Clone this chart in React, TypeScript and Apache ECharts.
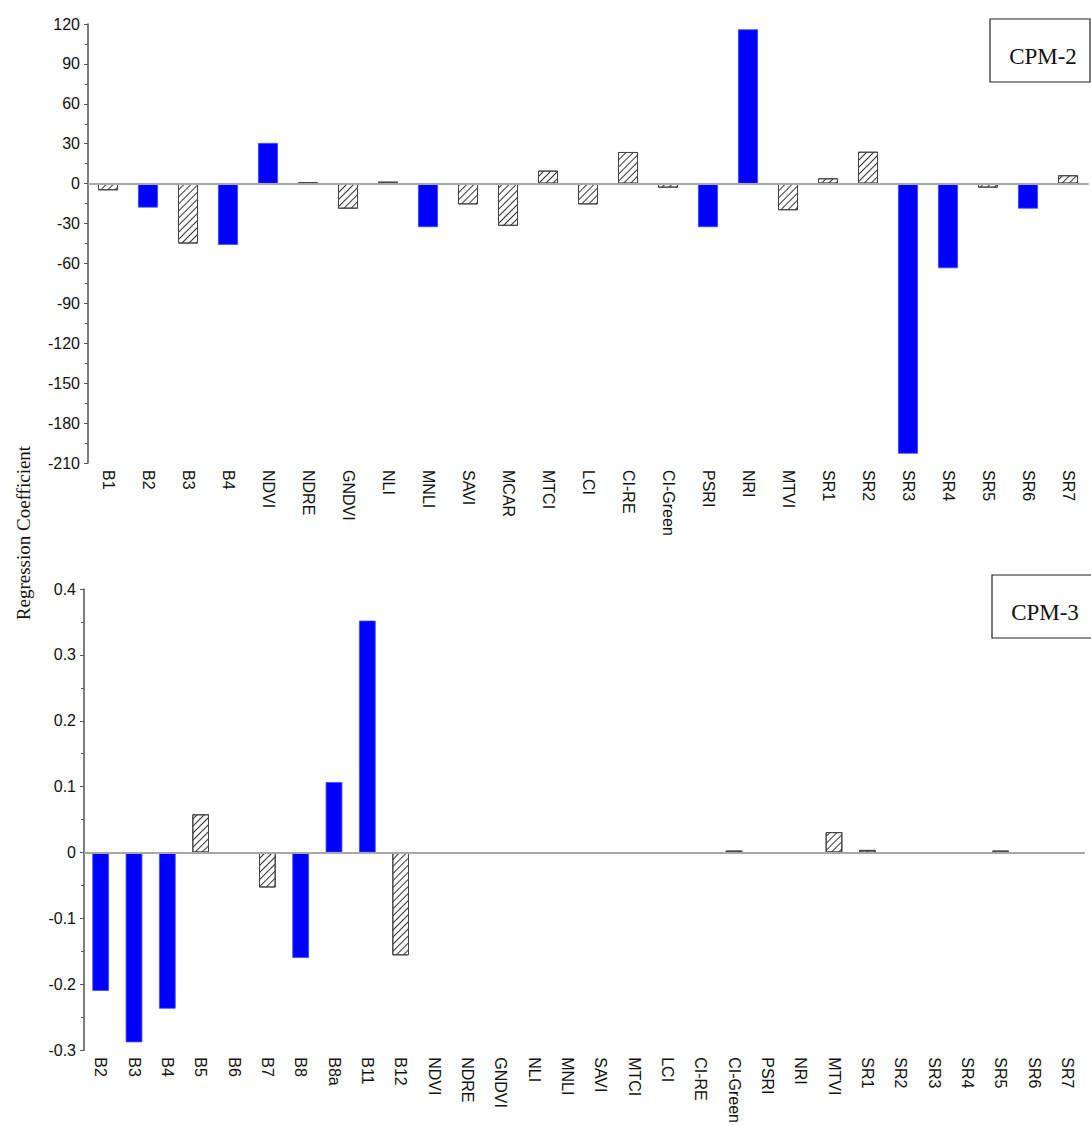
import React, { useEffect, useRef } from "react";
import * as echarts from "echarts";

// CPM-2 regression coefficients
const cpm2Categories = [
  "B1", "B2", "B3", "B4", "NDVI", "NDRE", "GNDVI", "NLI", "MNLI", "SAVI", "MCAR", "MTCI", "LCI",
  "CI-RE", "CI-Green", "PSRI", "NRI", "MTVI", "SR1", "SR2", "SR3", "SR4", "SR5", "SR6", "SR7",
];
const cpm2Values = [
  -5, -18, -45, -46, 30.6, 1, -18.8, 1.5, -32.7, -15.6, -31.7, 9.8, -15.6,
  23.8, -3, -32.7, 116, -20, 4, 24, -203, -63.6, -3, -18.8, 6.3,
];
const cpm2Selected = ["B2", "B4", "NDVI", "MNLI", "PSRI", "NRI", "SR3", "SR4", "SR6"];
const cpm2Ticks = { min: -210, max: 120, interval: 30 };

// CPM-3 regression coefficients
const cpm3Categories = [
  "B2", "B3", "B4", "B5", "B6", "B7", "B8", "B8a", "B11", "B12", "NDVI", "NDRE", "GNDVI", "NLI",
  "MNLI", "SAVI", "MTCI", "LCI", "CI-RE", "CI-Green", "PSRI", "NRI", "MTVI", "SR1", "SR2", "SR3",
  "SR4", "SR5", "SR6", "SR7",
];
const cpm3Values = [
  -0.21, -0.288, -0.237, 0.058, -0.002, -0.053, -0.16, 0.107, 0.352, -0.156, 0, -0.0008, 0, -0.0008,
  -0.0008, 0, -0.001, -0.001, -0.0008, 0.003, -0.0008, -0.0008, 0.031, 0.004, -0.0008, -0.001,
  -0.0008, 0.003, -0.001, -0.0008,
];
const cpm3Selected = ["B2", "B3", "B4", "B8", "B8a", "B11"];
const cpm3Ticks = { min: -0.3, max: 0.4, interval: 0.1 };

const BLUE = "#0000ff";
const AXIS = "#555";
const sansFont = "Liberation Sans, Arial, sans-serif";
const serifFont = "Liberation Serif, Times New Roman, serif";

// Diagonal "///" hatching for the non-selected predictors
const hatch = {
  symbol: "rect",
  symbolSize: 1,
  dashArrayX: [1, 0],
  dashArrayY: [1, 4],
  rotation: -Math.PI / 4,
  color: "#333",
};

function barItems(values: number[], categories: string[], selected: string[]) {
  return values.map((v, i) =>
    selected.includes(categories[i])
      ? { value: v, itemStyle: { color: BLUE, borderColor: "#3b4dff", borderWidth: 0.8 } }
      : { value: v, itemStyle: { color: "#fff", borderColor: "#444", borderWidth: 1, decal: hatch } }
  );
}

function xAxis(gridIndex: number, categories: string[]) {
  return {
    type: "category",
    gridIndex,
    data: categories,
    axisLine: { lineStyle: { color: AXIS, width: 1.5 } },
    axisTick: { alignWithLabel: true, length: 5, lineStyle: { color: AXIS } },
    axisLabel: {
      rotate: -90,
      interval: 0,
      margin: 7,
      fontFamily: sansFont,
      fontSize: 16,
      color: "#111",
    },
  };
}

function yAxis(gridIndex: number, ticks: { min: number; max: number; interval: number }) {
  return {
    type: "value",
    gridIndex,
    min: ticks.min,
    max: ticks.max,
    interval: ticks.interval,
    axisLine: { show: true, lineStyle: { color: AXIS, width: 1.5 } },
    axisTick: { show: true, length: 4, lineStyle: { color: AXIS } },
    minorTick: { show: true, splitNumber: 2, length: 3, lineStyle: { color: AXIS } },
    splitLine: { show: false },
    axisLabel: {
      margin: 8,
      fontFamily: sansFont,
      fontSize: 16,
      color: "#111",
      formatter: (v: number) => String(Math.round(v * 1000) / 1000),
    },
  };
}

const zeroLine = {
  silent: true,
  symbol: "none",
  label: { show: false },
  lineStyle: { color: "#a8a8a8", width: 2, type: "solid" },
  data: [{ yAxis: 0 }],
};

function legendBox(label: string, x: number, y: number, textY: number) {
  return {
    type: "group",
    children: [
      {
        type: "rect",
        shape: { x, y, width: 100, height: 63 },
        style: { fill: "#fff", stroke: "#222", lineWidth: 1.2 },
      },
      {
        type: "text",
        x: x + 53,
        y: textY,
        style: {
          text: label,
          font: `23px ${serifFont}`,
          fill: "#111",
          textAlign: "center",
          textVerticalAlign: "middle",
        },
      },
    ],
  };
}

export default function App() {
  const ref = useRef<HTMLDivElement>(null);

  useEffect(() => {
    if (!ref.current) return;
    const chart = echarts.init(ref.current, undefined, { renderer: "svg" });
    chart.setOption({
      animation: false,
      backgroundColor: "#fff",
      grid: [
        { left: 88, top: 24, width: 1000, height: 439 },
        { left: 84, top: 589, width: 1000, height: 462 },
      ],
      xAxis: [xAxis(0, cpm2Categories), xAxis(1, cpm3Categories)],
      yAxis: [yAxis(0, cpm2Ticks), yAxis(1, cpm3Ticks)],
      series: [
        {
          type: "bar",
          xAxisIndex: 0,
          yAxisIndex: 0,
          barWidth: "50%",
          data: barItems(cpm2Values, cpm2Categories, cpm2Selected),
          markLine: zeroLine,
        },
        {
          type: "bar",
          xAxisIndex: 1,
          yAxisIndex: 1,
          barWidth: "50%",
          data: barItems(cpm3Values, cpm3Categories, cpm3Selected),
          markLine: zeroLine,
        },
      ],
      graphic: [
        {
          type: "text",
          x: 23,
          y: 533,
          rotation: Math.PI / 2,
          style: {
            text: "Regression Coefficient",
            font: `19px ${serifFont}`,
            fill: "#111",
            textAlign: "center",
            textVerticalAlign: "middle",
          },
        },
        legendBox("CPM-2", 990, 19, 56),
        legendBox("CPM-3", 992, 575, 612),
      ],
    });
    return () => chart.dispose();
  }, []);

  return (
    <div
      ref={ref}
      style={{ position: "absolute", left: 0, top: 0, width: 1091, height: 1126, background: "#fff" }}
    />
  );
}
